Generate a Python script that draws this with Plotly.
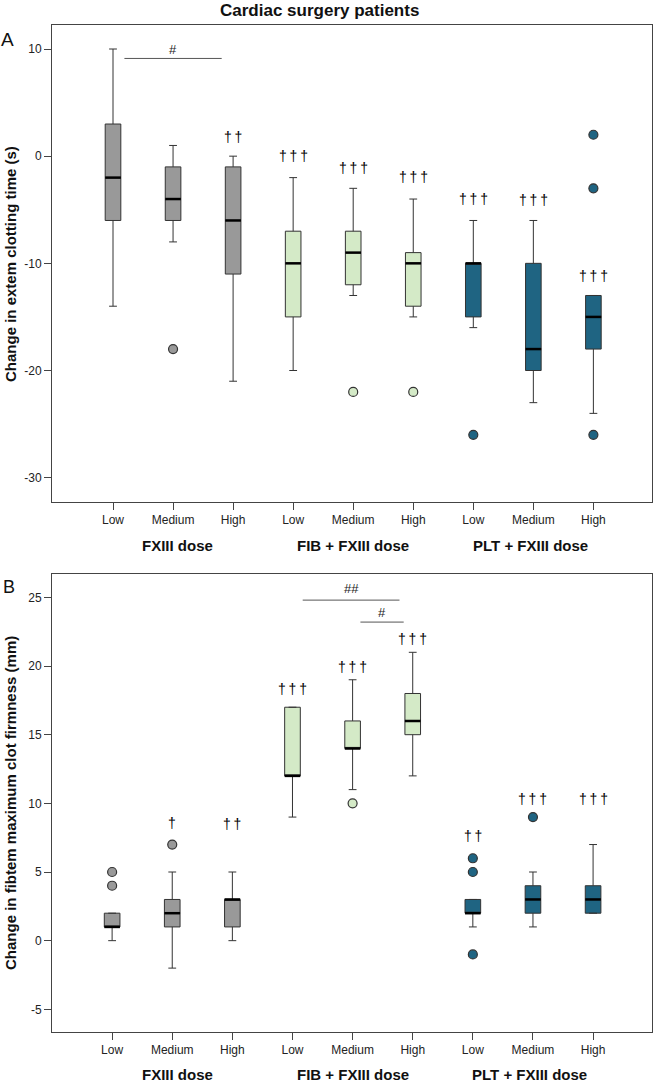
import plotly.graph_objects as go

# categories
doses = ["Low", "Medium", "High"] * 3
groups = ["FXIII dose", "FIB + FXIII dose", "PLT + FXIII dose"]
pos = list(range(9))

# panel A: change in extem clotting time (s)
a_ticks = [10, 0, -10, -20, -30]
a_upper = [10, 1, 0, -2, -3, -4, -6, -6, -13]
a_q3 = [3, -1, -1, -7, -7, -9, -10, -10, -13]
a_med = [-2, -4, -6, -10, -9, -10, -10, -18, -15]
a_q1 = [-6, -6, -11, -15, -12, -14, -15, -20, -18]
a_lower = [-14, -8, -21, -20, -13, -15, -16, -23, -24]
a_out = {1: [-18], 4: [-22], 5: [-22], 6: [-26], 8: [2, -3, -26]}
a_sig = {2: ("††", 1.8), 3: ("†††", 0.0), 4: ("†††", -1.1), 5: ("†††", -1.9),
         6: ("†††", -4.0), 7: ("†††", -4.1), 8: ("†††", -11.2)}

# panel B: change in fibtem maximum clot firmness (mm)
b_ticks = [25, 20, 15, 10, 5, 0, -5]
b_upper = [2, 5, 5, 17, 19, 21, 3, 5, 7]
b_q3 = [2, 3, 3, 17, 16, 18, 3, 4, 4]
b_med = [1, 2, 3, 12, 14, 16, 2, 3, 3]
b_q1 = [1, 1, 1, 12, 14, 15, 2, 2, 2]
b_lower = [0, -2, 0, 9, 11, 12, 1, 1, 2]
b_out = {0: [5, 4], 1: [7], 4: [10], 6: [6, 5, -1], 7: [9]}
b_sig = {1: ("†", 8.55), 2: ("††", 8.5), 3: ("†††", 18.3), 4: ("†††", 19.95),
         5: ("†††", 21.95), 6: ("††", 7.6), 7: ("†††", 10.3), 8: ("†††", 10.3)}

# between-dose comparison bars: (x0, x1, y, label, label_y)
a_bars = [(0.19, 1.81, 9.12, "#", 10.0)]
b_bars = [(3.17, 4.78, 24.8, "##", 25.65), (4.13, 4.85, 23.2, "#", 23.9)]

colors = ["#999999", "#d4eac7", "#1f6482"]
FONT = "Liberation Sans, Arial, sans-serif"
W, H = 655, 1083
BW = 0.26

fig = go.Figure()


def add_panel(xa, ya, upper, q3, med, q1, lower, outl):
    for g in range(3):
        idx = [3 * g + k for k in range(3)]
        fig.add_trace(go.Box(
            x=[pos[i] for i in idx], q1=[q1[i] for i in idx], median=[med[i] for i in idx],
            q3=[q3[i] for i in idx], lowerfence=[lower[i] for i in idx],
            upperfence=[upper[i] for i in idx], width=BW, whiskerwidth=0.5,
            fillcolor=colors[g], line=dict(color="#333333", width=1),
            boxpoints=False, xaxis=xa, yaxis=ya, showlegend=False, hoverinfo="skip"))
        ox, oy = [], []
        for i in idx:
            for v in outl.get(i, []):
                ox.append(pos[i])
                oy.append(v)
        if ox:
            fig.add_trace(go.Scatter(
                x=ox, y=oy, mode="markers", xaxis=xa, yaxis=ya, showlegend=False,
                marker=dict(size=9, color=colors[g], line=dict(color="#333333", width=1.2))))
    mx, my = [], []
    for i in pos:
        mx += [pos[i] - BW / 2, pos[i] + BW / 2, None]
        my += [med[i], med[i], None]
    fig.add_trace(go.Scatter(x=mx, y=my, mode="lines", xaxis=xa, yaxis=ya, showlegend=False,
                             line=dict(color="black", width=2.5), hoverinfo="skip"))


add_panel("x", "y", a_upper, a_q3, a_med, a_q1, a_lower, a_out)
add_panel("x2", "y2", b_upper, b_q3, b_med, b_q1, b_lower, b_out)

ann = []
for sig, xr, yr in [(a_sig, "x", "y"), (b_sig, "x2", "y2")]:
    for i, (t, yv) in sig.items():
        ann.append(dict(x=pos[i], y=yv, xref=xr, yref=yr, text="\u2009".join(t), showarrow=False,
                        font=dict(size=14, color="#000000", family="Liberation Sans")))
for bars, xr, yr in [(a_bars, "x", "y"), (b_bars, "x2", "y2")]:
    for x0, x1, yv, t, ty in bars:
        fig.add_shape(type="line", x0=x0, x1=x1, y0=yv, y1=yv, xref=xr, yref=yr,
                      line=dict(color="#555555", width=1))
        ann.append(dict(x=(x0 + x1) / 2, y=ty, xref=xr, yref=yr, text=t, showarrow=False,
                        font=dict(size=13, color="#222222")))

# group labels under each panel
for yy, xr in [(545, "x"), (1074, "x2")]:
    for g, cx in zip(groups, [1.08, 4, 6.95]):
        ann.append(dict(x=cx, y=1 - yy / H, xref=xr, yref="paper",
                        text="<b>" + g + "</b>", showarrow=False,
                        font=dict(size=15, color="#111111")))

ann += [
    dict(x=319 / W, y=1 - 10 / H, xref="paper", yref="paper", text="<b>Cardiac surgery patients</b>",
         showarrow=False, font=dict(size=17, color="#111111")),
    dict(x=7 / W, y=1 - 40 / H, xref="paper", yref="paper", text="A", showarrow=False,
         font=dict(size=19, color="#111111")),
    dict(x=9 / W, y=1 - 587 / H, xref="paper", yref="paper", text="B", showarrow=False,
         font=dict(size=18, color="#111111")),
    dict(x=10 / W, y=1 - 264 / H, xref="paper", yref="paper", textangle=-90,
         text="<b>Change in extem clotting time (s)</b>", showarrow=False,
         font=dict(size=15, color="#111111")),
    dict(x=10 / W, y=1 - 803 / H, xref="paper", yref="paper", textangle=-90,
         text="<b>Change in fibtem maximum clot firmness (mm)</b>", showarrow=False,
         font=dict(size=15, color="#111111")),
]
for a in ann:
    a["xanchor"] = "center"
    a["yanchor"] = "middle"

axis_common = dict(showline=True, mirror=True, linecolor="#444444", linewidth=1,
                   showgrid=False, zeroline=False, ticks="outside", ticklen=7,
                   tickcolor="#444444", tickfont=dict(size=12, color="#222222"))
xdom = [52 / W, 652 / W]
fig.update_layout(
    width=W, height=H, margin=dict(l=0, r=0, t=0, b=0),
    paper_bgcolor="white", plot_bgcolor="white",
    font=dict(family=FONT),
    xaxis=dict(domain=xdom, range=[-1.016, 8.976], tickvals=pos, ticktext=doses,
               anchor="y", **axis_common),
    yaxis=dict(domain=[1 - 502 / H, 1 - 25 / H], range=[-32.27, 12.24],
               tickvals=a_ticks, ticktext=[str(v) for v in a_ticks], anchor="x", **axis_common),
    xaxis2=dict(domain=xdom, range=[-1.0, 8.98], tickvals=pos, ticktext=doses,
                anchor="y2", **axis_common),
    yaxis2=dict(domain=[1 - 1031.7 / H, 1 - 574.3 / H], range=[-6.63, 26.68],
                tickvals=b_ticks, ticktext=[str(v) for v in b_ticks], anchor="x2", **axis_common),
    annotations=ann,
)

fig.write_html("out.html", config={"displayModeBar": False},
               post_script="document.body.style.margin='0px';")
